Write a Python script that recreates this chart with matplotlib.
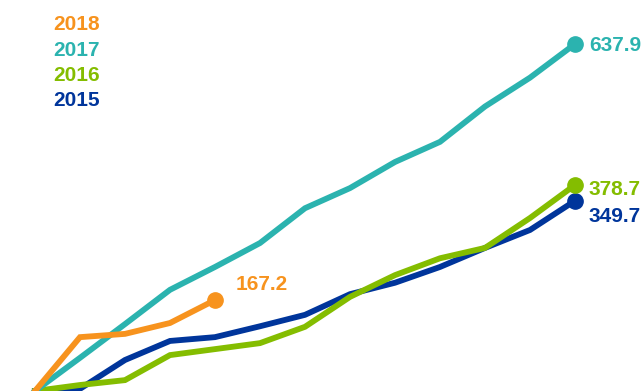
import matplotlib.pyplot as plt

plt.rcParams["font.family"] = ["Liberation Sans", "DejaVu Sans"]

months = list(range(13))
y2015 = [0, 4, 57, 92, 99, 119, 140, 178, 199, 228, 263, 296, 349.7]
y2016 = [0, 11, 20, 66, 77, 88, 118, 173, 213, 244, 263, 318, 378.7]
y2017 = [0, 61, 123, 186, 228, 272, 336, 373, 421, 458, 523, 576, 637.9]
y2018 = [0, 99, 105, 125, 167.2]

# (name, values, colour, label offset in points: dx, dy)
series = [
    ("2015", y2015, "#00359B", 10, -11),
    ("2016", y2016, "#84BD00", 10, -3),
    ("2017", y2017, "#2BB3AF", 10, -1),
    ("2018", y2018, "#F7931E", 15, 11),
]

fig = plt.figure(figsize=(6.43, 3.91), dpi=100)
ax = fig.add_axes([0, 0, 1, 1])

for name, vals, color, dx, dy in series:
    x = months[:len(vals)]
    ax.plot(x, vals, color=color, lw=4.2, solid_joinstyle="miter")
    ax.plot(x[-1], vals[-1], "o", color=color, ms=11)
    ax.annotate(f"{vals[-1]:.1f}", (x[-1], vals[-1]), xytext=(dx, dy),
                textcoords="offset points", color=color, fontsize=15,
                fontweight="bold", va="center", ha="left")

# legend as coloured year labels
for i, (name, vals, color, dx, dy) in enumerate(reversed(series)):
    fig.text(53 / 643, 1 - (25 + 25.3 * i) / 391, name, color=color,
             fontsize=15, fontweight="bold", va="center", ha="left")

ax.set_xlim(-35 / 45, 608 / 45)
ax.set_ylim(0, 391 / 0.544)
ax.axis("off")

fig.savefig("out.png", dpi=100)
